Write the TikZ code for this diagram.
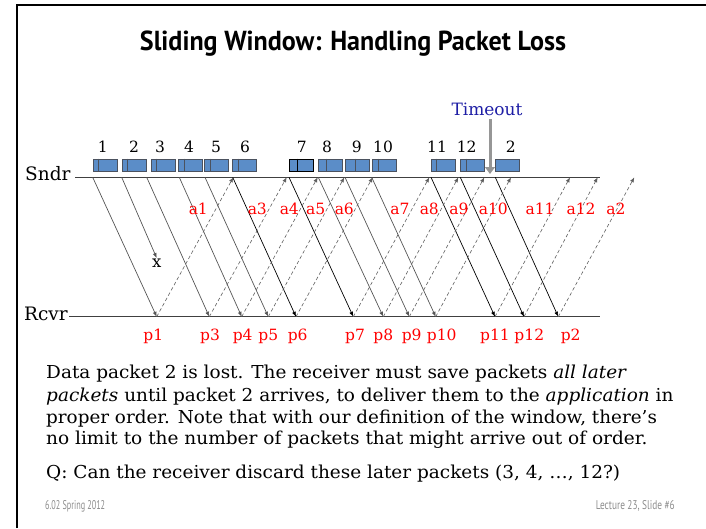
\documentclass[tikz,border=0pt]{standalone}
\usepackage{graphicx}
\usepackage{fontspec}
\setmainfont{DejaVu Serif}
\newfontfamily\ptsans{PT Sans}
\usetikzlibrary{arrows.meta}
\definecolor{boxblue}{RGB}{91,141,200}
\definecolor{boxedge}{RGB}{75,82,95}
\definecolor{tblue}{RGB}{30,30,165}
\definecolor{linegray}{RGB}{85,85,85}
\definecolor{ackgray}{RGB}{95,95,95}
\definecolor{footgray}{RGB}{140,140,140}
\definecolor{timegray}{RGB}{150,150,150}
\newcommand{\fitw}[2]{\resizebox{#1}{\height}{#2}}
\begin{document}
\begin{tikzpicture}[x=1pt,y=-1pt,
  pkt/.style={rectangle,draw=boxedge,fill=boxblue,line width=0.8pt,minimum width=24pt,minimum height=12pt,inner sep=0pt,anchor=west},
  datal/.style={draw=linegray,line width=0.7pt,-{Latex[length=5pt,width=4pt]}},
  datak/.style={draw=black,line width=0.7pt,-{Latex[length=5pt,width=4pt]}},
  ackl/.style={draw=ackgray,line width=0.6pt,dash pattern=on 3.5pt off 2.5pt,-{Latex[length=5pt,width=4pt]}},
  axis/.style={draw=black!75,line width=1.1pt},
  numlbl/.style={anchor=base,inner sep=0pt,font=\fontsize{15.5}{18}\selectfont},
  redlbl/.style={anchor=base,inner sep=0pt,text=red,font=\fontsize{15.5}{18}\selectfont},
  sidelbl/.style={anchor=base west,inner sep=0pt,font=\fontsize{18.5}{22}\selectfont},
  para/.style={anchor=base west,inner sep=0pt,font=\fontsize{17.8}{21}\selectfont},
  foot/.style={inner sep=0pt,text=footgray,font=\ptsans\fontsize{11}{13}\selectfont},
  tarrow/.style={draw=timegray,line width=3pt,-{Triangle[length=7pt,width=10pt]}}
]
\useasboundingbox (0,0) rectangle (706,528);
% slide frame
\draw[line width=1.4pt] (17,528) -- (17,5) -- (706,5);
% title
\node[anchor=base,inner sep=0pt] (title) at (353,50)
  {\fitw{426pt}{\ptsans\bfseries\fontsize{27.5}{30}\selectfont Sliding Window: Handling Packet Loss}};
% axes
\node[sidelbl] (sndr) at (25,180.7) {Sndr};
\node[sidelbl] (rcvr) at (24,320) {Rcvr};
\coordinate (sl) at (75,177.3);
\coordinate (sr) at (600,177.3);
\coordinate (rl) at (69,316.7);
\coordinate (rr) at (600,316.7);
\draw[axis] (sl) -- (sr);
\draw[axis] (rl) -- (rr);
% packet boxes
\foreach \i/\x/\d in {1/92.7/6,2/121.7/5.6,3/151/5.7,4/178/6,5/204.3/6.4,6/232.3/6,8/318.3/7.7,9/345/10.3,10/371.7/6.6,11/431/5.7,12/460.3/5.7}{
  \node[pkt] (b\i) at (\x,165) {};
  \draw[boxedge,line width=0.8pt] ([xshift=\d pt]b\i.north west) -- ([xshift=\d pt]b\i.south west);
}
\node[pkt,draw=black] (b7) at (289,165) {};
\draw[black,line width=0.8pt] ([xshift=8.3pt]b7.north west) -- ([xshift=8.3pt]b7.south west);
\node[pkt] (bR) at (495.3,165) {};
% packet numbers
\foreach \i/\x/\t in {1/102.7/1,2/134/2,3/160/3,4/189/4,5/216/5,6/245/6,7/301.7/7,8/327/8,9/356.7/9,10/383/10,11/437/11,12/466.7/12,R/510.7/2}{
  \node[numlbl] (n\i) at (\x,152.3) {\t};
}
% timeout
\node[anchor=base,inner sep=0pt,text=tblue,font=\fontsize{17}{20}\selectfont] (tout) at (487,115) {Timeout};
\coordinate (tstart) at (490,119);
\coordinate (tend) at (490,174);
\draw[tarrow] (tstart) -- (tend);
% sender / receiver points of data packets
\foreach \i/\sx/\rx in {1/92.7/156.7,3/146.7/209.3,4/179.3/241.7,5/205/268.3,6/232.7/296,7/289/353.3,8/318.3/383.3,9/345/409.3,10/371.7/435.7,11/431/495,12/460.3/524,R/495.3/558.3}{
  \coordinate (s\i) at (\sx,177.3);
  \coordinate (r\i) at (\rx,316.7);
}
\coordinate (s2) at (121.7,177.3);
\coordinate (lost) at (156.7,258);
% data packets
\foreach \i in {1,3,4,5,8,9,10}{ \draw[datal] (s\i) -- (r\i); }
\foreach \i in {6,7,11,12,R}{ \draw[datak] (s\i) -- (r\i); }
\draw[datal] (s2) -- (lost);
\node[anchor=base,inner sep=0pt,font=\fontsize{16.5}{18}\selectfont] (xmark) at (156.7,267.7) {x};
% acks
\foreach \i/\ax in {1/233.3,3/286.7,4/317.7,5/344.3,6/372.7,7/429.3,8/458.3,9/484.3,10/511,11/570,12/597.7,R/634.3}{
  \coordinate (k\i) at (\ax,177.3);
  \draw[ackl] (r\i) -- (k\i);
}
% ack labels
\foreach \i/\x/\t in {1/198.3/a1,3/257.3/a3,4/289.3/a4,5/315.7/a5,6/344.3/a6,7/400/a7,8/429.3/a8,9/459/a9,10/493.3/a10,11/540/a11,12/581/a12,R/616/a2}{
  \node[redlbl] (al\i) at (\x,214) {\t};
}
% packet receive labels
\foreach \i/\x/\t in {1/153.3/p1,3/210/p3,4/242.7/p4,5/268.3/p5,6/297.7/p6,7/355/p7,8/383.3/p8,9/411.7/p9,10/441.7/p10,11/495/p11,12/529.3/p12,R/570.7/p2}{
  \node[redlbl] (pl\i) at (\x,340) {\t};
}
% paragraph
\node[para] (l1) at (46,378.3) {\fitw{580.7pt}{Data packet 2 is lost. The receiver must save packets \textit{all later}}};
\node[para] (l2) at (46,401) {\fitw{627.3pt}{\textit{packets} until packet 2 arrives, to deliver them to the \textit{application} in}};
\node[para] (l3) at (46,423) {\fitw{610.7pt}{proper order. Note that with our definition of the window, there’s}};
\node[para] (l4) at (46,444.5) {\fitw{601.3pt}{no limit to the number of packets that might arrive out of order.}};
\node[para] (l5) at (46,478) {\fitw{574pt}{Q: Can the receiver discard these later packets (3, 4, …, 12?)}};
% footer
\node[foot,anchor=base west] (f1) at (45,509) {\resizebox{60pt}{9pt}{6.02 Spring 2012}};
\node[foot,anchor=base east] (f2) at (675,509) {\resizebox{79pt}{9pt}{Lecture 23, Slide \#6}};
\end{tikzpicture}
\end{document}
